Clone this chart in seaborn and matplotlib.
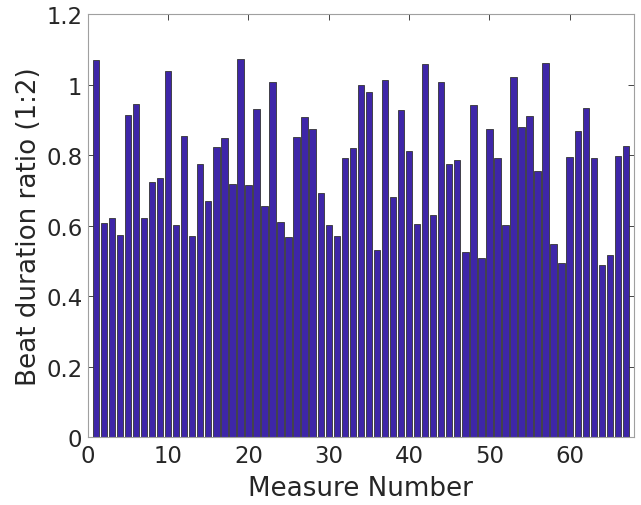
import matplotlib
matplotlib.use("Agg")
import matplotlib.pyplot as plt
import seaborn as sns
import pandas as pd
import numpy as np

measures = list(range(1, 68))
ratios = [1.070, 0.608, 0.621, 0.573, 0.913, 0.946, 0.622, 0.725, 0.734, 1.039,
          0.602, 0.854, 0.572, 0.774, 0.670, 0.822, 0.848, 0.719, 1.072, 0.716,
          0.932, 0.657, 1.009, 0.610, 0.568, 0.852, 0.907, 0.874, 0.692, 0.603,
          0.571, 0.792, 0.820, 0.999, 0.978, 0.530, 1.014, 0.680, 0.929, 0.811,
          0.604, 1.058, 0.631, 1.008, 0.776, 0.785, 0.525, 0.941, 0.508, 0.875,
          0.791, 0.603, 1.021, 0.880, 0.910, 0.754, 1.061, 0.547, 0.493, 0.796,
          0.870, 0.935, 0.791, 0.488, 0.516, 0.799, 0.826]
xticks = [0, 10, 20, 30, 40, 50, 60]
yticks = [0, 0.2, 0.4, 0.6, 0.8, 1.0, 1.2]
yticklabels = ["0", "0.2", "0.4", "0.6", "0.8", "1", "1.2"]

df = pd.DataFrame({"Measure": measures, "Ratio": ratios})

sns.set_style("white")
plt.rcParams['font.family'] = ['DejaVu Sans']

fig = plt.figure(figsize=(6.41, 5.06), dpi=100)
ax = fig.add_axes([0.137, 0.134, 0.852, 0.836])
sns.barplot(data=df, x="Measure", y="Ratio", native_scale=True, width=0.8,
            color="#3e26a8", saturation=1, edgecolor="#333333", linewidth=0.6, ax=ax)

ax.set_xlim(0, 68)
ax.set_ylim(0, 1.2)
ax.set_xticks(xticks)
ax.set_xticklabels([str(t) for t in xticks])
ax.set_yticks(yticks)
ax.set_yticklabels(yticklabels)
ax.tick_params(direction="in", length=4, width=0.6, color="#262626",
               labelsize=16.4, labelcolor="#262626", top=True, right=True,
               bottom=True, left=True)
ax.tick_params(axis="x", pad=5)
ax.tick_params(axis="y", pad=4)
for s in ax.spines.values():
    s.set_color("#a0a0a0")
    s.set_linewidth(0.8)
    s.set_visible(True)
ax.set_xlabel("Measure Number", fontsize=18.8, color="#262626", labelpad=6)
ax.set_ylabel("Beat duration ratio (1:2)", fontsize=18.8, color="#262626", labelpad=3)

fig.savefig("out.png", dpi=100)
